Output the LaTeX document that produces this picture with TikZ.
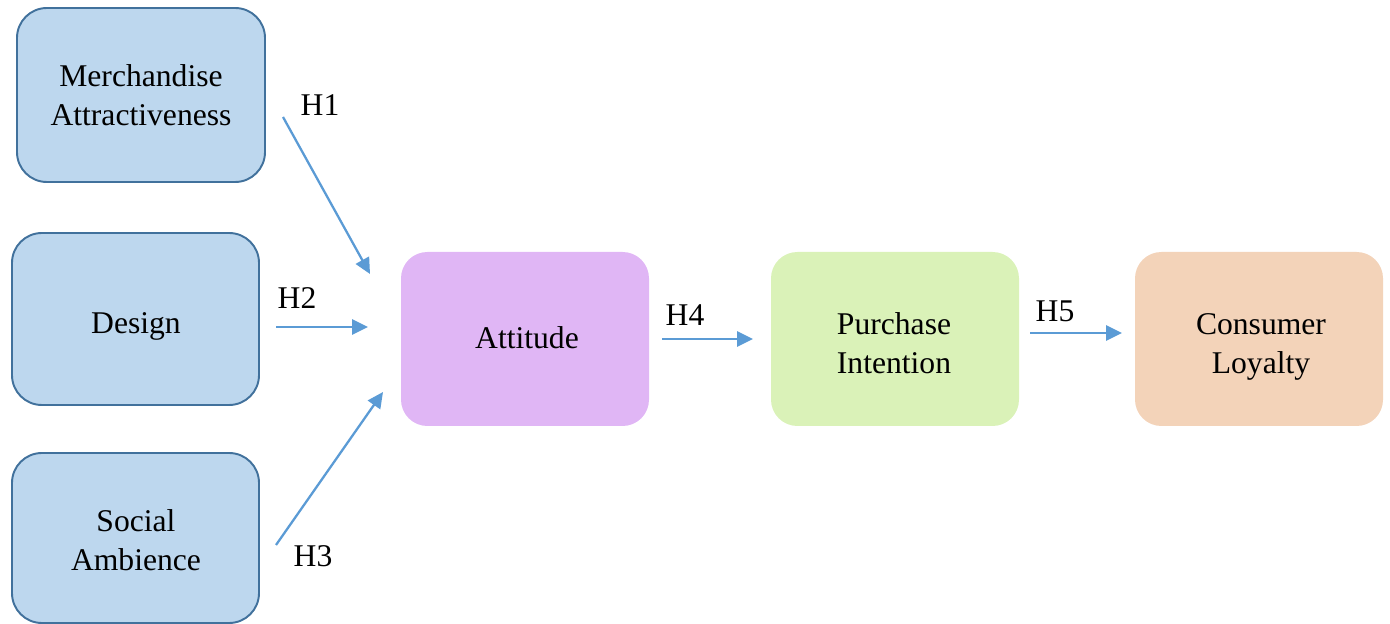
\documentclass[tikz,border=0pt]{standalone}
\usepackage{fontspec}
\setmainfont{Liberation Serif}
\usetikzlibrary{arrows.meta}
\definecolor{bfill}{HTML}{BDD7EE}
\definecolor{bdraw}{HTML}{41719C}
\definecolor{pfill}{HTML}{E0B6F5}
\definecolor{gfill}{HTML}{DAF2B8}
\definecolor{ofill}{HTML}{F3D3B9}
\definecolor{arr}{HTML}{5B9BD5}
\tikzset{
  txt/.style={font=\fontsize{18}{22.2}\selectfont, align=center, text=black},
  bluebox/.style={draw=bdraw, line width=1.1pt, fill=bfill, rounded corners=17pt},
  flatbox/.style={rounded corners=15pt},
  hyp/.style={font=\fontsize{18}{20}\selectfont, inner sep=0pt},
  conn/.style={draw=arr, line width=1.3pt, -{Triangle[length=9pt,width=8.5pt]}}
}
\begin{document}
\begin{tikzpicture}[x=0.02cm,y=-0.02cm]
\useasboundingbox (0,0) rectangle (1390,624);
% boxes
\draw[bluebox] (17,8) rectangle (265,182);
\node[txt] (ma) at (141,95) {Merchandise\\Attractiveness};
\draw[bluebox] (12,233) rectangle (259,405);
\node[txt] (de) at (136,326) {Design};
\draw[bluebox] (12,453) rectangle (259,623);
\node[txt] (sa) at (136,540) {Social\\Ambience};
\fill[pfill, flatbox] (401,252) rectangle (649,426);
\node[txt] (at) at (527,338) {Attitude};
\fill[gfill, flatbox] (771,252) rectangle (1019,426);
\node[txt] (pi) at (894,343) {Purchase\\Intention};
\fill[ofill, flatbox] (1135,252) rectangle (1383,426);
\node[txt] (cl) at (1261,347) {Consumer\\Loyalty};
% arrow end points
\coordinate (h1s) at (283,117);
\coordinate (h1e) at (370,274);
\coordinate (h2s) at (276,327);
\coordinate (h2e) at (368,327);
\coordinate (h3s) at (276,545);
\coordinate (h3e) at (383,392);
\coordinate (h4s) at (662,339);
\coordinate (h4e) at (753,339);
\coordinate (h5s) at (1030,333);
\coordinate (h5e) at (1122,333);
\draw[conn] (h1s) -- (h1e);
\draw[conn] (h2s) -- (h2e);
\draw[conn] (h3s) -- (h3e);
\draw[conn] (h4s) -- (h4e);
\draw[conn] (h5s) -- (h5e);
% labels
\node[hyp] (l1) at (320,105) {H1};
\node[hyp] (l2) at (297,298) {H2};
\node[hyp] (l3) at (313,556) {H3};
\node[hyp] (l4) at (685,315) {H4};
\node[hyp] (l5) at (1055,311) {H5};
\end{tikzpicture}
\end{document}
